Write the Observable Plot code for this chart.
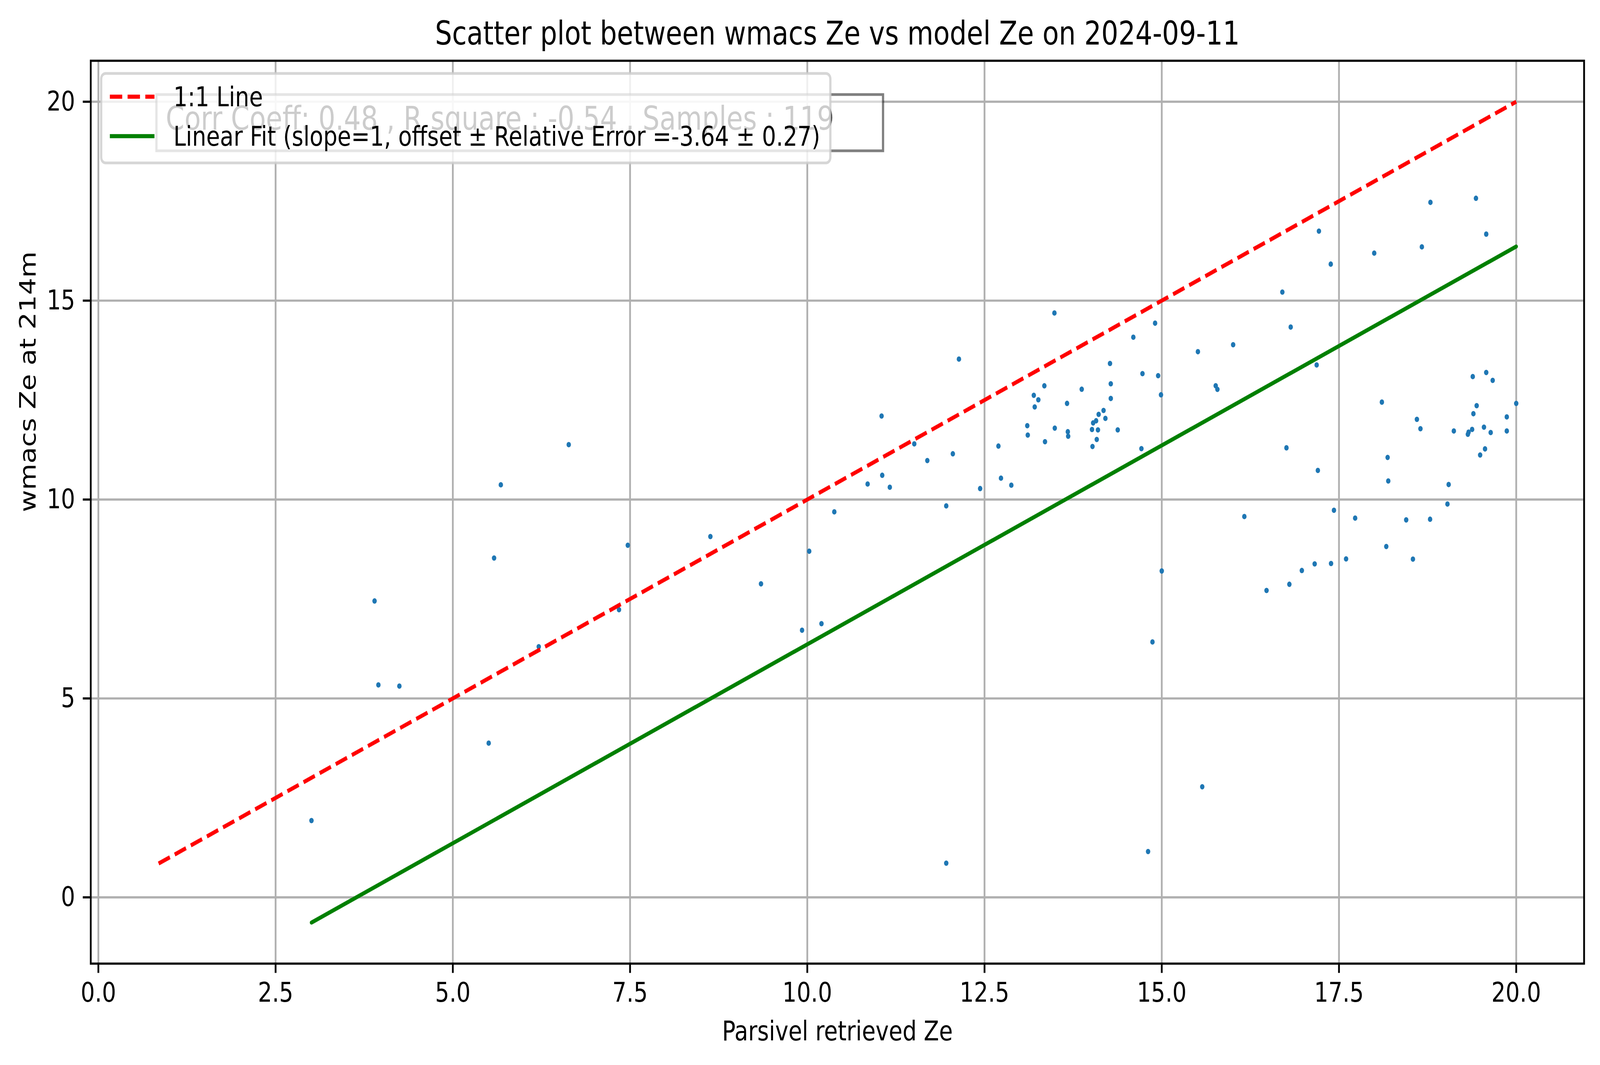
<!DOCTYPE html>
<html>
<head>
<meta charset="utf-8">
<script src="https://cdn.jsdelivr.net/npm/d3@7"></script>
<script src="https://cdn.jsdelivr.net/npm/@observablehq/plot@0.6"></script>
<style>
html, body { margin: 0; padding: 0; background: #fff; overflow: hidden; width: 100%; height: 100%; }
#chart { width: 100vw; height: 100vh; }
#chart svg { display: block; max-width: none !important; width: 100vw !important; height: 100vh !important; }
</style>
</head>
<body>
<div id="chart"></div>
<script>
// ---------- data ----------
const titleText = "Scatter plot between wmacs Ze vs model Ze on 2024-09-11";
const xLabel = "Parsivel retrieved Ze";
const yLabel = "wmacs Ze at 214m";
const xTicks = [0, 2.5, 5, 7.5, 10, 12.5, 15, 17.5, 20];
const yTicks = [0, 5, 10, 15, 20];

const parsivelZe = [
  3.006, 3.896, 3.95, 4.246, 5.506, 5.582, 5.677, 6.212, 6.635, 7.344, 7.468,
  8.633, 9.347, 9.926, 10.027, 10.20, 10.381, 10.851, 11.048, 11.057, 11.164, 11.509, 11.693, 11.96, 11.96,
  12.053, 12.139, 12.438, 12.696, 12.732, 12.878, 13.103, 13.11, 13.195, 13.259, 13.208, 13.344, 13.353,
  13.486, 13.491, 13.664, 13.675, 13.68, 13.871, 14.016, 14.032, 14.074, 14.023, 14.083, 14.1, 14.11,
  14.179, 14.205, 14.27, 14.281, 14.281, 14.379, 14.599, 14.713, 14.728, 14.906, 14.949, 14.989,
  15.0, 14.869, 15.571, 14.807,
  17.217, 17.384, 16.701, 16.819, 15.51, 16.007, 15.761, 15.785, 17.185, 16.759, 17.202, 16.165, 17.429, 17.728,
  16.478, 16.80, 16.976, 17.157, 17.388, 17.60,
  18.79, 19.432, 19.577, 17.997, 18.669, 18.105, 19.387, 19.577, 19.668, 20.0, 19.442, 19.396, 19.867, 19.867,
  18.599, 18.649, 19.12, 19.318, 19.328, 19.378, 19.545, 19.64, 19.56, 19.491, 18.186, 18.195, 19.047, 19.03,
  18.448, 18.785,
  18.167, 18.543
];
const wmacsZe = [
  1.93, 7.45, 5.34, 5.31, 3.876, 8.53, 10.37, 6.30, 11.38, 7.23, 8.85,
  9.07, 7.88, 6.715, 8.70, 6.88, 9.69, 10.39, 12.10, 10.61, 10.31, 11.40, 10.98, 9.84, 0.86,
  11.15, 13.53, 10.276, 11.344, 10.537, 10.36, 11.856, 11.62, 12.62, 12.507, 12.327, 12.859, 11.454,
  14.689, 11.795, 12.417, 11.705, 11.59, 12.773, 11.76, 11.926, 11.98, 11.334, 11.51, 11.75, 12.14,
  12.24, 12.04, 13.42, 12.91, 12.54, 11.75, 14.08, 11.279, 13.164, 14.433, 13.114, 12.633,
  8.204, 6.42, 2.78, 1.152,
  16.746, 15.918, 15.214, 14.336, 13.716, 13.891, 12.86, 12.77, 13.384, 11.30, 10.732, 9.572, 9.73, 9.533,
  7.715, 7.87, 8.216, 8.382, 8.392, 8.507,
  17.47, 17.573, 16.672, 16.194, 16.351, 12.449, 13.091, 13.193, 12.995, 12.416, 12.359, 12.157, 12.078, 11.723,
  12.016, 11.779, 11.723, 11.64, 11.695, 11.762, 11.819, 11.684, 11.273, 11.12, 11.059, 10.467, 10.377, 9.887,
  9.488, 9.505,
  8.819, 8.503
];

// 1:1 line and fitted line (slope = 1, offset = -3.64) endpoints
const oneToOneX = [0.85, 20];
const oneToOneY = [0.85, 20];
const fitX = [3.006, 20];
const fitY = [-0.634, 16.36];

const legendLabels = ["1:1 Line", "Linear Fit (slope=1, offset \u00b1 Relative Error =-3.64 \u00b1 0.27)"];
const statsText = "Corr Coeff: 0.48 , R square : -0.54 , Samples : 119";

// ---------- build ----------
const W = 4981, H = 2726;
const pt = 500 / 72;
const points = parsivelZe.map((x, i) => ({x, y: wmacsZe[i]}));
const oneToOne = oneToOneX.map((x, i) => ({x, y: oneToOneY[i]}));
const fit = fitX.map((x, i) => ({x, y: fitY[i]}));

const plot = Plot.plot({
  width: W,
  height: H,
  marginLeft: 282,
  marginRight: 50,
  marginTop: 155,
  marginBottom: 260,
  style: {fontFamily: "'DejaVu Sans', sans-serif", background: "white", color: "black", maxWidth: "none"},
  x: {domain: [-0.1075, 20.9575]},
  y: {domain: [-1.666, 21.03]},
  marks: [
    Plot.gridX(xTicks, {stroke: "#b0b0b0", strokeOpacity: 1, strokeWidth: 0.8 * pt}),
    Plot.gridY(yTicks, {stroke: "#b0b0b0", strokeOpacity: 1, strokeWidth: 0.8 * pt}),
    Plot.dot(points, {x: "x", y: "y", r: 6.9, fill: "#1f77b4", stroke: null}),
    Plot.line(oneToOne, {x: "x", y: "y", stroke: "red", strokeWidth: 1.5 * pt,
      strokeDasharray: `${3.7 * 1.5 * pt},${1.6 * 1.5 * pt}`, strokeLinecap: "butt"}),
    Plot.line(fit, {x: "x", y: "y", stroke: "green", strokeWidth: 1.5 * pt, strokeLinecap: "round"}),
    Plot.frame({stroke: "black", strokeWidth: 0.8 * pt}),
    Plot.axisX(xTicks, {tickSize: 3.5 * pt, tickPadding: 3.5 * pt, strokeWidth: 0.8 * pt,
      fontSize: 10 * pt, tickFormat: d3.format(".1f"), label: null, fill: "black"}),
    Plot.axisY(yTicks, {tickSize: 3.5 * pt, tickPadding: 3.5 * pt, strokeWidth: 0.8 * pt,
      fontSize: 10 * pt, tickFormat: d3.format("d"), label: null, fill: "black"}),
    Plot.text([titleText], {text: d => d, frameAnchor: "top", lineAnchor: "bottom", dy: -42, fontSize: 12 * pt, fill: "black"}),
    Plot.text([xLabel], {text: d => d, frameAnchor: "bottom", lineAnchor: "bottom", dy: 196, fontSize: 10 * pt, fill: "black"}),
    Plot.text([yLabel], {text: d => d, frameAnchor: "left", lineAnchor: "bottom", rotate: -90, dx: -172, fontSize: 10 * pt, fill: "black"})
  ]
});
// fill the whole browser viewport with the 4981x2726 drawing
plot.setAttribute("viewBox", `0 0 ${W} ${H}`);
plot.setAttribute("preserveAspectRatio", "none");
plot.style.maxWidth = "none";

// ---------- annotation box and legend ----------
const svg = d3.select(plot);
const ann = svg.append("g").attr("text-anchor", "start");
ann.append("rect")
  .attr("x", 487).attr("y", 242).attr("width", 2749 - 487).attr("height", 386 - 242)
  .attr("fill", "white").attr("fill-opacity", 0.5)
  .attr("stroke", "black").attr("stroke-opacity", 0.5).attr("stroke-width", pt);
ann.append("text")
  .attr("x", 516).attr("y", 332).attr("font-size", 12 * pt).attr("fill", "black")
  .attr("text-anchor", "start")
  .text(statsText);

const leg = svg.append("g").attr("text-anchor", "start");
leg.append("rect")
  .attr("x", 315).attr("y", 188).attr("width", 2585 - 315).attr("height", 417 - 188)
  .attr("rx", 0.2 * 10 * pt).attr("ry", 0.2 * 10 * pt)
  .attr("fill", "white").attr("fill-opacity", 0.8)
  .attr("stroke", "#cccccc").attr("stroke-opacity", 0.8).attr("stroke-width", pt);
const handleX1 = 342, handleX2 = 342 + 2 * 10 * pt;
const rowsY = [247.5, 348.5];
leg.append("line")
  .attr("x1", handleX1).attr("x2", handleX2).attr("y1", rowsY[0]).attr("y2", rowsY[0])
  .attr("stroke", "red").attr("stroke-width", 1.5 * pt)
  .attr("stroke-dasharray", `${3.7 * 1.5 * pt},${1.6 * 1.5 * pt}`);
leg.append("line")
  .attr("x1", handleX1).attr("x2", handleX2).attr("y1", rowsY[1]).attr("y2", rowsY[1])
  .attr("stroke", "green").attr("stroke-width", 1.5 * pt);
legendLabels.forEach((lab, i) => {
  leg.append("text")
    .attr("x", 540).attr("y", rowsY[i] + 0.35 * 10 * pt)
    .attr("font-size", 10 * pt).attr("fill", "black")
    .attr("text-anchor", "start")
    .text(lab);
});

document.getElementById("chart").appendChild(plot);
</script>
</body>
</html>
